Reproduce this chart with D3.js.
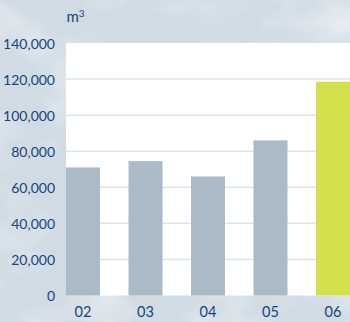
<!DOCTYPE html>
<html>
<head>
<meta charset="utf-8">
<script src="https://cdn.jsdelivr.net/npm/d3@7"></script>
<style>
  html, body { margin: 0; padding: 0; background: #d4dfe7; }
  svg { display: block; }
</style>
</head>
<body>
<script>
// Annual volume, cubic metres
const years = ["02", "03", "04", "05", "06"];
const volumes = [71000, 74500, 66000, 86000, 118500];
const highlightYear = "06";
const yTicks = [0, 20000, 40000, 60000, 80000, 100000, 120000, 140000];

const W = 350, H = 322;
const plot = { left: 66, right: 350, top: 43, bottom: 295.5 };

const svg = d3.select("body").append("svg")
  .attr("width", W).attr("height", H);

// Marbled backdrop
const defs = svg.append("defs");
const f = defs.append("filter").attr("id", "marble")
  .attr("x", 0).attr("y", 0).attr("width", "100%").attr("height", "100%");
f.append("feTurbulence").attr("type", "fractalNoise")
  .attr("baseFrequency", "0.011 0.018").attr("numOctaves", 4).attr("seed", 7)
  .attr("result", "noise");
f.append("feColorMatrix").attr("in", "noise").attr("type", "matrix")
  .attr("values", "0 0 0 0 0.92  0 0 0 0 0.94  0 0 0 0 0.96  0 0 0 -1.3 0.72")
  .attr("result", "tint");
f.append("feComposite").attr("in", "tint").attr("in2", "SourceGraphic").attr("operator", "over");

svg.append("rect").attr("width", W).attr("height", H).attr("fill", "#d0dbe4");
svg.append("rect").attr("width", W).attr("height", H).attr("fill", "#d0dbe4")
  .attr("filter", "url(#marble)");

const x = d3.scaleBand()
  .domain(years)
  .range([plot.left, plot.right])
  .paddingInner(0.456)
  .paddingOuter(0)
  .align(0);

const y = d3.scaleLinear()
  .domain([0, 140000])
  .range([plot.bottom, plot.top]);

// Plot panel
svg.append("rect")
  .attr("x", plot.left).attr("y", plot.top)
  .attr("width", plot.right - plot.left)
  .attr("height", y(0) - plot.top)
  .attr("fill", "#ffffff");

// Gridlines
svg.append("g")
  .selectAll("line")
  .data(yTicks.filter(t => t > 0 && t < 140000))
  .join("line")
  .attr("x1", plot.left).attr("x2", plot.right)
  .attr("y1", d => y(d)).attr("y2", d => y(d))
  .attr("stroke", "#dbe5ee").attr("stroke-width", 1.5);

// Bars
svg.append("g")
  .selectAll("rect")
  .data(years.map((yr, i) => ({ yr, v: volumes[i] })))
  .join("rect")
  .attr("x", d => x(d.yr))
  .attr("width", x.bandwidth())
  .attr("y", d => y(d.v))
  .attr("height", d => y(0) - y(d.v))
  .attr("fill", d => d.yr === highlightYear ? "#d5df4b" : "#aabbc7");

const textColor = "#15447f";
const fontFamily = "Lato, 'Open Sans', sans-serif";

// Y axis
const yAxis = d3.axisLeft(y)
  .tickValues(yTicks)
  .tickSize(0)
  .tickPadding(0)
  .tickFormat(d3.format(","));
const gy = svg.append("g")
  .attr("transform", `translate(55,0)`)
  .call(yAxis);
gy.select(".domain").remove();
gy.selectAll("text")
  .attr("fill", textColor)
  .style("font-family", fontFamily)
  .style("font-size", "14px")
  .attr("dy", "0.36em");

// X axis
const xAxis = d3.axisBottom(x).tickSize(0).tickPadding(0);
const gx = svg.append("g")
  .attr("transform", `translate(0,${plot.bottom + 11})`)
  .call(xAxis);
gx.select(".domain").remove();
gx.selectAll("text")
  .attr("fill", textColor)
  .style("font-family", fontFamily)
  .style("font-size", "14.5px");

// Unit label
const unit = svg.append("text")
  .attr("x", 66.5).attr("y", 22)
  .attr("fill", textColor)
  .style("font-family", fontFamily)
  .style("font-size", "15px");
unit.append("tspan").text("m");
unit.append("tspan").text("3").attr("dy", "-5").style("font-size", "10px");
</script>
</body>
</html>
